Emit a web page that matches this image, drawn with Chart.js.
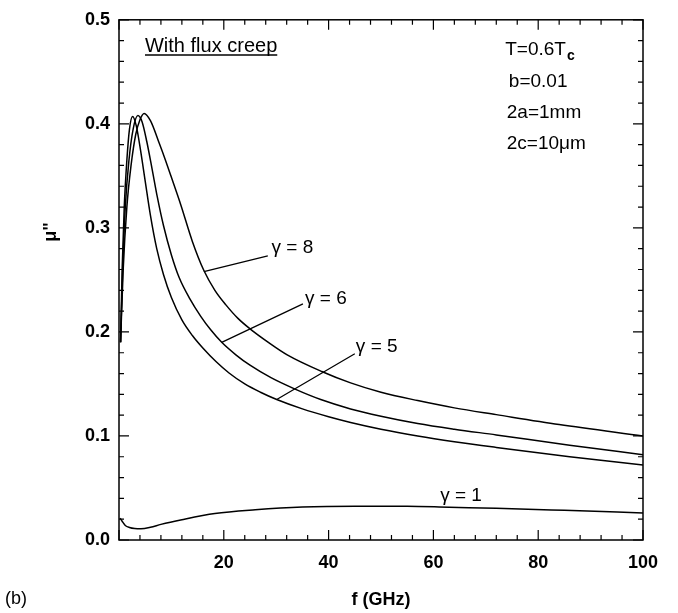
<!DOCTYPE html>
<html>
<head>
<meta charset="utf-8">
<script src="https://cdn.jsdelivr.net/npm/chart.js"></script>
<style>
  html, body { margin: 0; padding: 0; background: #fff; }
  #wrap { width: 678px; height: 613px; position: relative; }
</style>
</head>
<body>
<div id="wrap"><canvas id="muChart" width="678" height="613"></canvas></div>
<script>
// Frequency (GHz) and mu'' values, one pair of arrays per curve
const g8F  = [0.3, 0.8, 1.5, 2.3, 3.2, 4.0, 4.8, 6.0, 7.7, 8.8, 9.9, 11.8, 14, 16.2, 18.3, 20.4, 22.7, 25, 28.5, 32.1, 38.7, 44.2, 50, 57, 64, 72, 84, 100];
const g8Mu = [0.19, 0.26, 0.32, 0.36, 0.39, 0.404, 0.41, 0.403, 0.381, 0.366, 0.350, 0.322, 0.287, 0.259, 0.240, 0.226, 0.213, 0.203, 0.190, 0.178, 0.162, 0.151, 0.142, 0.134, 0.127, 0.1205, 0.111, 0.100];

const g6F  = [0.3, 0.7, 1.2, 1.9, 2.7, 3.6, 4.4, 5.3, 6.3, 7.3, 8.5, 10, 11.5, 13.5, 15.6, 17.5, 19.6, 22.3, 25, 29, 33.6, 38.5, 44.2, 50, 57, 64, 72, 86, 100];
const g6Mu = [0.19, 0.26, 0.32, 0.365, 0.395, 0.408, 0.402, 0.383, 0.357, 0.330, 0.302, 0.274, 0.252, 0.232, 0.215, 0.202, 0.190, 0.178, 0.168, 0.156, 0.145, 0.135, 0.126, 0.119, 0.112, 0.1065, 0.101, 0.091, 0.082];

const g5F  = [0.3, 0.6, 1.0, 1.5, 2.0, 2.6, 3.3, 4.1, 5.0, 6.0, 7.2, 8.5, 10, 12, 14, 16, 18.5, 21, 24, 27, 30.1, 35, 40, 44.2, 50, 57, 64, 72, 86, 100];
const g5Mu = [0.19, 0.26, 0.32, 0.365, 0.395, 0.407, 0.398, 0.375, 0.345, 0.312, 0.280, 0.255, 0.233, 0.2115, 0.1965, 0.1845, 0.1715, 0.1605, 0.150, 0.142, 0.135, 0.126, 0.1185, 0.113, 0.1065, 0.100, 0.0945, 0.089, 0.080, 0.072];

const g1F  = [0.2, 0.6, 1.2, 2.0, 3.0, 4.2, 6, 8, 12, 18.3, 26, 35, 45, 55, 63, 72, 85, 100];
const g1Mu = [0.021, 0.018, 0.014, 0.012, 0.011, 0.0108, 0.0122, 0.015, 0.0195, 0.0254, 0.029, 0.0317, 0.0325, 0.0325, 0.0315, 0.0305, 0.0285, 0.026];

// Axis tick labels
const xTickLabels = ['', '20', '40', '60', '80', '100'];
const yTickLabels = ['0.0', '0.1', '0.2', '0.3', '0.4', '0.5'];

// Build {x, y} points from the arrays
function toPoints(fs, mus) {
    return fs.map(function(f, i) { return { x: f, y: mus[i] }; });
}

function curve(label, fs, mus) {
    return {
        label: label,
        data: toPoints(fs, mus),
        borderColor: '#000',
        borderWidth: 1.5,
        pointRadius: 0,
        fill: false,
        cubicInterpolationMode: 'monotone'
    };
}

// Frame, inward ticks and text annotations
const framePlugin = {
    id: 'frame',
    afterDraw: function(chart) {
        const ctx = chart.ctx;
        const a = chart.chartArea;
        const xs = chart.scales.x;
        const ys = chart.scales.y;
        const px = function(v) { return xs.getPixelForValue(v); };
        const py = function(v) { return ys.getPixelForValue(v); };

        ctx.save();
        ctx.strokeStyle = '#000';
        ctx.lineWidth = 1.5;
        ctx.strokeRect(a.left, a.top, a.right - a.left, a.bottom - a.top);

        // ticks pointing inward on all four sides
        ctx.lineWidth = 1.2;
        ctx.beginPath();
        for (let i = 0; i <= 25; i++) {
            const x = px(i * 4);
            const len = (i % 5 === 0) ? 10 : 5;
            ctx.moveTo(x, a.bottom); ctx.lineTo(x, a.bottom - len);
            ctx.moveTo(x, a.top); ctx.lineTo(x, a.top + len);
        }
        for (let i = 0; i <= 25; i++) {
            const y = py(i * 0.02);
            const len = (i % 5 === 0) ? 10 : 5;
            ctx.moveTo(a.left, y); ctx.lineTo(a.left + len, y);
            ctx.moveTo(a.right, y); ctx.lineTo(a.right - len, y);
        }
        ctx.stroke();

        // pointer lines from the gamma labels to their curves
        ctx.lineWidth = 1.3;
        ctx.beginPath();
        ctx.moveTo(px(16.2), py(0.258)); ctx.lineTo(px(28.4), py(0.273));
        ctx.moveTo(px(19.6), py(0.190)); ctx.lineTo(px(35.1), py(0.227));
        ctx.moveTo(px(30.1), py(0.135)); ctx.lineTo(px(45.0), py(0.179));
        ctx.stroke();

        ctx.fillStyle = '#000';
        ctx.textBaseline = 'middle';
        ctx.textAlign = 'left';

        ctx.font = '19px "Liberation Sans", Arial, sans-serif';
        ctx.fillText('\u03b3 = 8', px(29.1), py(0.281));
        ctx.fillText('\u03b3 = 6', px(35.5), py(0.2317));
        ctx.fillText('\u03b3 = 5', px(45.2), py(0.1857));
        ctx.fillText('\u03b3 = 1', px(61.3), py(0.0429));

        // "With flux creep", underlined
        ctx.font = '20px "Liberation Sans", Arial, sans-serif';
        ctx.textBaseline = 'alphabetic';
        const wx = px(4.96);
        const wy = 52;
        ctx.fillText('With flux creep', wx, wy);
        const ww = ctx.measureText('With flux creep').width;
        ctx.lineWidth = 1.3;
        ctx.beginPath();
        ctx.moveTo(wx, wy + 3); ctx.lineTo(wx + ww, wy + 3);
        ctx.stroke();

        // parameter block
        ctx.font = '19px "Liberation Sans", Arial, sans-serif';
        ctx.textBaseline = 'middle';
        const tx = px(73.7);
        ctx.fillText('T=0.6T', tx, 50);
        const tw = ctx.measureText('T=0.6T').width;
        ctx.font = 'bold 14px "Liberation Sans", Arial, sans-serif';
        ctx.fillText('c', tx + tw + 1, 56);
        ctx.font = '19px "Liberation Sans", Arial, sans-serif';
        ctx.fillText('b=0.01', px(74.4), 82);
        ctx.fillText('2a=1mm', px(74.0), 113);
        ctx.fillText('2c=10\u03bcm', px(74.0), 144);

        // y axis title, rotated
        ctx.save();
        ctx.translate(51, 232);
        ctx.rotate(-Math.PI / 2);
        ctx.textAlign = 'center';
        ctx.font = 'bold 18px "Liberation Sans", Arial, sans-serif';
        ctx.fillText('\u03bc"', 0, 0);
        ctx.restore();

        // panel letter
        ctx.font = '18px "Liberation Sans", Arial, sans-serif';
        ctx.textAlign = 'left';
        ctx.fillText('(b)', 5, 599);

        ctx.restore();
    }
};

new Chart(document.getElementById('muChart'), {
    type: 'line',
    data: {
        datasets: [
            curve('gamma=8', g8F, g8Mu),
            curve('gamma=6', g6F, g6Mu),
            curve('gamma=5', g5F, g5Mu),
            curve('gamma=1', g1F, g1Mu)
        ]
    },
    plugins: [framePlugin],
    options: {
        responsive: false,
        animation: false,
        layout: { padding: { left: 0, right: 35, top: 15, bottom: 0 } },
        plugins: {
            legend: { display: false },
            tooltip: { enabled: false }
        },
        scales: {
            x: {
                type: 'linear',
                min: 0,
                max: 100,
                grid: { display: false, drawTicks: false },
                border: { display: false },
                ticks: {
                    stepSize: 20,
                    padding: 12,
                    color: '#000',
                    font: { family: '"Liberation Sans", Arial, sans-serif', size: 18, weight: 'bold' },
                    callback: function(value) {
                        return xTickLabels[Math.round(value / 20)];
                    }
                },
                title: {
                    display: true,
                    text: 'f (GHz)',
                    color: '#000',
                    padding: { top: 0, bottom: 2 },
                    font: { family: '"Liberation Sans", Arial, sans-serif', size: 18, weight: 'bold' }
                },
                afterFit: function(scale) { scale.height = 73; }
            },
            y: {
                type: 'linear',
                min: 0,
                max: 0.5,
                grid: { display: false, drawTicks: false },
                border: { display: false },
                ticks: {
                    stepSize: 0.1,
                    padding: 9,
                    color: '#000',
                    font: { family: '"Liberation Sans", Arial, sans-serif', size: 18, weight: 'bold' },
                    callback: function(value) {
                        return yTickLabels[Math.round(value * 10)];
                    }
                },
                afterFit: function(scale) { scale.width = 119; }
            }
        }
    }
});
</script>
</body>
</html>
